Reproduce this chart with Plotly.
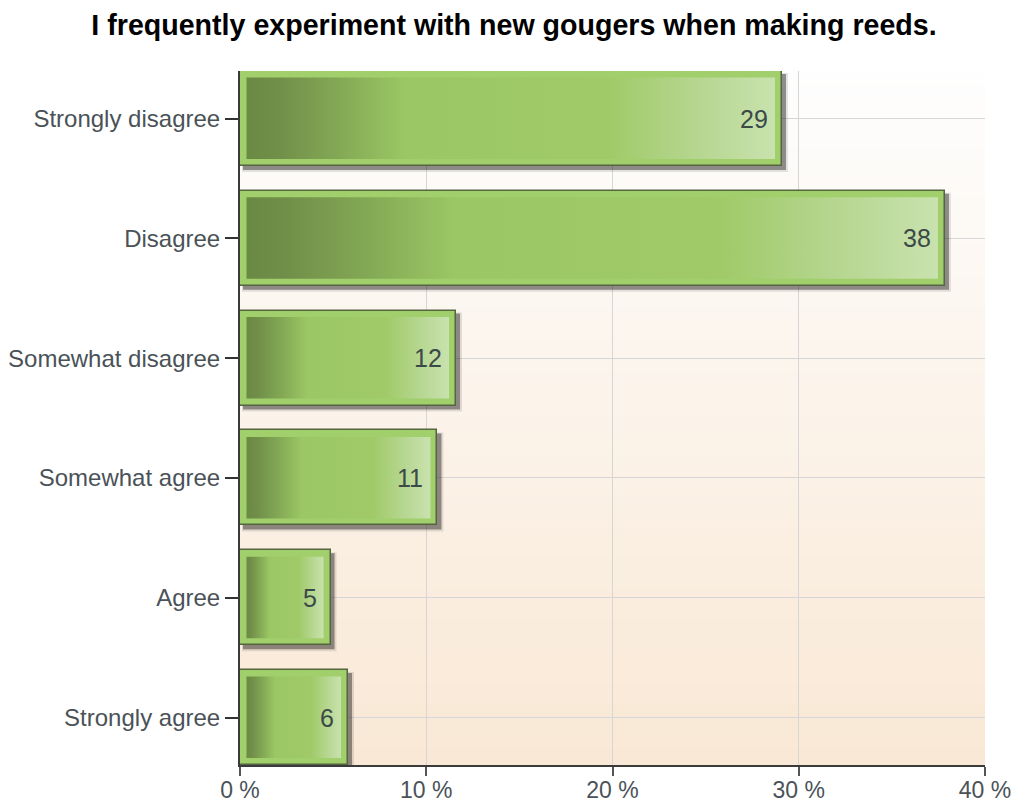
import base64, struct, zlib
import plotly.graph_objects as go

# ---------------- data ----------------
categories = ["Strongly disagree", "Disagree", "Somewhat disagree",
              "Somewhat agree", "Agree", "Strongly agree"]
counts = [29, 38, 12, 11, 5, 6]
percents = [29.1, 37.85, 11.6, 10.6, 4.86, 5.8]
x_tickvals = [0, 10, 20, 30, 40]
x_ticktext = ["0 %", "10 %", "20 %", "30 %", "40 %"]
title_text = "I frequently experiment with new gougers when making reeds."

# ---------------- geometry / style ----------------
W, H = 1011, 803
ML, MR, MT, MB = 240, 26, 71, 38
PW, PH = W - ML - MR, H - MT - MB
HALF = 0.3965                      # half bar thickness in category units
XMAX = 40
YR = [len(categories) - 1 + HALF, -HALF]
XPX = XMAX / PW                    # data units per pixel (x)
YPX = (YR[0] - YR[1]) / PH         # data units per pixel (y)
ypos = list(range(len(categories)))
FONT = "Liberation Sans, Arial, sans-serif"


def png_gradient(top, bottom, n=256):
    raw = b""
    for i in range(n):
        t = i / (n - 1)
        c = bytes(int(round(top[k] + (bottom[k] - top[k]) * t)) for k in range(3))
        raw += b"\x00" + c

    def chunk(tag, data):
        return (struct.pack(">I", len(data)) + tag + data +
                struct.pack(">I", zlib.crc32(tag + data) & 0xffffffff))

    png = b"\x89PNG\r\n\x1a\n"
    png += chunk(b"IHDR", struct.pack(">IIBBBBB", 1, n, 8, 2, 0, 0, 0))
    png += chunk(b"IDAT", zlib.compress(raw, 9))
    png += chunk(b"IEND", b"")
    return "data:image/png;base64," + base64.b64encode(png).decode()


fig = go.Figure()

# outer bars (light green frame with dark outline)
fig.add_trace(go.Bar(
    y=ypos, x=percents, orientation="h", width=2 * HALF,
    marker=dict(color="#a1cf6c", line=dict(color="#55653f", width=1.5)),
    hoverinfo="skip", showlegend=False,
))

# inner gradient panels
grad = [[0.0, "#6a8943"], [0.06, "#718f49"], [0.16, "#80a553"],
        [0.30, "#9bc764"], [0.68, "#9fca67"], [0.85, "#b5d68f"],
        [1.0, "#c9e2ae"]]
for yi, v in zip(ypos, percents):
    x0, x1 = 6.5 * XPX, v - 7 * XPX
    y0, y1 = yi - HALF + 6.5 * YPX, yi + HALF - 7 * YPX
    fig.add_trace(go.Scatter(
        x=[x0, x1, x1, x0, x0], y=[y0, y0, y1, y1, y0],
        mode="lines", fill="toself",
        fillgradient=dict(type="horizontal", colorscale=grad),
        line=dict(width=0, color="rgba(0,0,0,0)"),
        hoverinfo="skip", showlegend=False,
    ))

shapes = []
for yi, v in zip(ypos, percents):
    # soft outer shadow
    shapes.append(dict(type="rect", layer="between", xref="x", yref="y",
                       x0=2 * XPX, x1=v + 6 * XPX,
                       y0=yi - HALF + 2 * YPX, y1=yi + HALF + 6 * YPX,
                       fillcolor="rgba(0,0,0,0.10)", line=dict(width=0)))
    shapes.append(dict(type="rect", layer="between", xref="x", yref="y",
                       x0=3 * XPX, x1=v + 4 * XPX,
                       y0=yi - HALF + 3 * YPX, y1=yi + HALF + 4 * YPX,
                       fillcolor="rgba(0,0,0,0.38)", line=dict(width=0)))

annotations = []
for yi, v, c in zip(ypos, percents, counts):
    annotations.append(dict(x=v, y=yi, xref="x", yref="y", text=str(c),
                            showarrow=False, xanchor="right", yanchor="middle",
                            xshift=-12,
                            font=dict(family=FONT, size=25, color="#3c4949")))

fig.update_layout(
    width=W, height=H, autosize=False,
    margin=dict(l=ML, r=MR, t=MT, b=MB, pad=0, autoexpand=False),
    paper_bgcolor="white", plot_bgcolor="rgba(0,0,0,0)",
    title=dict(text=title_text, x=514 / W, xanchor="center",
               yref="container", y=1 - 25 / H, yanchor="middle",
               automargin=False,
               font=dict(family=FONT, size=28.6, color="#000000", weight="bold")),
    images=[dict(source=png_gradient((254, 254, 254), (249, 232, 213)),
                 xref="paper", yref="paper", x=0, y=1, sizex=1, sizey=1,
                 xanchor="left", yanchor="top", sizing="stretch",
                 layer="below")],
    shapes=shapes,
    annotations=annotations,
    showlegend=False,
    bargap=0,
)

fig.update_xaxes(
    range=[0, XMAX], tickvals=x_tickvals, ticktext=x_ticktext,
    showgrid=True, gridcolor="#d6d6d6", gridwidth=1, zeroline=False,
    showline=True, linecolor="#3a3a3a", linewidth=2,
    ticks="outside", ticklen=9, tickwidth=1.5, tickcolor="#555555",
    tickfont=dict(family=FONT, size=23, color="#4a5258"),
    ticklabelstandoff=-6,
    ticklabeloverflow="allow", automargin=False,
    fixedrange=True,
)
fig.update_yaxes(
    range=YR, tickvals=ypos, ticktext=categories,
    showgrid=True, gridcolor="#d6d6d6", gridwidth=1, zeroline=False,
    showline=True, linecolor="#3a3a3a", linewidth=2,
    ticks="outside", ticklen=13, tickwidth=2, tickcolor="#333333",
    tickfont=dict(family=FONT, size=24, color="#4a5258"),
    ticklabeloverflow="allow", automargin=False,
    fixedrange=True,
)

fig.write_html("out.html", config={"displayModeBar": False},
               post_script="document.body.style.margin='0';"
                           "document.body.style.overflow='hidden';")
